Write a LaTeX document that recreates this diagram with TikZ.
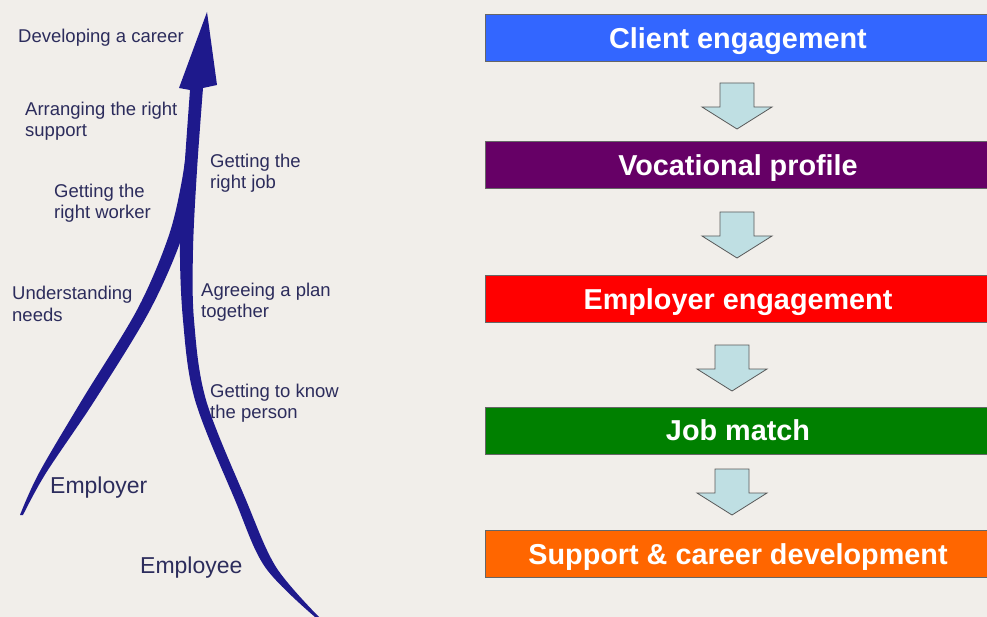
\documentclass[tikz,border=0pt]{standalone}
\usepackage{fontspec}
\setmainfont{Liberation Sans}
\definecolor{bgc}{HTML}{F1EEEA}
\definecolor{navy}{HTML}{1E198C}
\definecolor{lbl}{HTML}{2C2C5C}
\definecolor{cblue}{HTML}{3366FF}
\definecolor{cpurple}{HTML}{660066}
\definecolor{cred}{HTML}{FF0000}
\definecolor{cgreen}{HTML}{008000}
\definecolor{corange}{HTML}{FF6600}
\definecolor{afill}{HTML}{BFDFE3}
\tikzset{
  stagebox/.style={draw=black!60, line width=0.8pt, minimum width=506pt, minimum height=47pt, inner sep=0pt, text height=20.6pt, text depth=0pt, text=white, font=\bfseries\fontsize{28.8}{32}\selectfont},
  lbltext/.style={anchor=west, align=left, inner sep=0pt, text=lbl, font=\fontsize{18.5}{21.5}\selectfont},
  bigtext/.style={anchor=west, inner sep=0pt, text=lbl, font=\fontsize{23}{26}\selectfont},
  curve/.style={fill=navy},
  downarr/.pic={\draw[fill=afill, draw=black!65, line width=0.8pt, line join=miter] (-17,0) -- (17,0) -- (17,24) -- (35,24) -- (0,46) -- (-35,24) -- (-17,24) -- cycle;}
}
\begin{document}
\begin{tikzpicture}[x=1pt,y=-1pt]
\fill[bgc] (0,0) rectangle (987,617);
\useasboundingbox (0,0) rectangle (987,617);
\begin{scope}
\clip (0,0) rectangle (987,617);
% boxes
\node[stagebox, fill=cblue] (b1) at (738,38) {Client engagement};
\node[stagebox, fill=cpurple] (b2) at (738,165) {Vocational profile};
\node[stagebox, fill=cred] (b3) at (738,299) {Employer engagement};
\node[stagebox, fill=cgreen] (b4) at (738,430.5) {Job match};
\node[stagebox, fill=corange] (b5) at (738,554) {Support \& career development};
\end{scope}
% block arrows
\pic at (737,83) {downarr};
\pic at (737,212) {downarr};
\pic at (732,345) {downarr};
\pic at (732,469) {downarr};
% curves
\fill[curve] plot[smooth,tension=0.55] coordinates {(319,617) (276,567) (246,500) (206,400) (194,320) (193,250) (197,170) (203,88)} -- (217,85) -- (207,12) -- (179,88) -- plot[smooth,tension=0.55] coordinates {(190,90) (185,160) (180,240) (183,320) (195,400) (235,500) (265,567) (315,617)} -- cycle;
\fill[curve] plot[smooth,tension=0.55] coordinates {(20,515) (39,473) (82,400) (137,310) (168,238) (182,180) (190,120)} -- (198,120) -- plot[smooth,tension=0.55] coordinates {(192,180) (183,234) (150,310) (95,400) (46,473) (23,515)} -- cycle;
% labels
\node[lbltext] (l1) at (18,38) {Developing a career};
\node[lbltext] (l2) at (25,121) {Arranging the right\\support};
\node[lbltext] (l3) at (54,203) {Getting the\\right worker};
\node[lbltext] (l4) at (12,304) {Understanding\\needs};
\node[lbltext] (r1) at (210,173) {Getting the\\right job};
\node[lbltext] (r2) at (201,302) {Agreeing a plan\\together};
\node[lbltext] (r3) at (210,403) {Getting to know\\the person};
\node[bigtext] (emp1) at (50,488) {Employer};
\node[bigtext] (emp2) at (140,568) {Employee};
\end{tikzpicture}
\end{document}
